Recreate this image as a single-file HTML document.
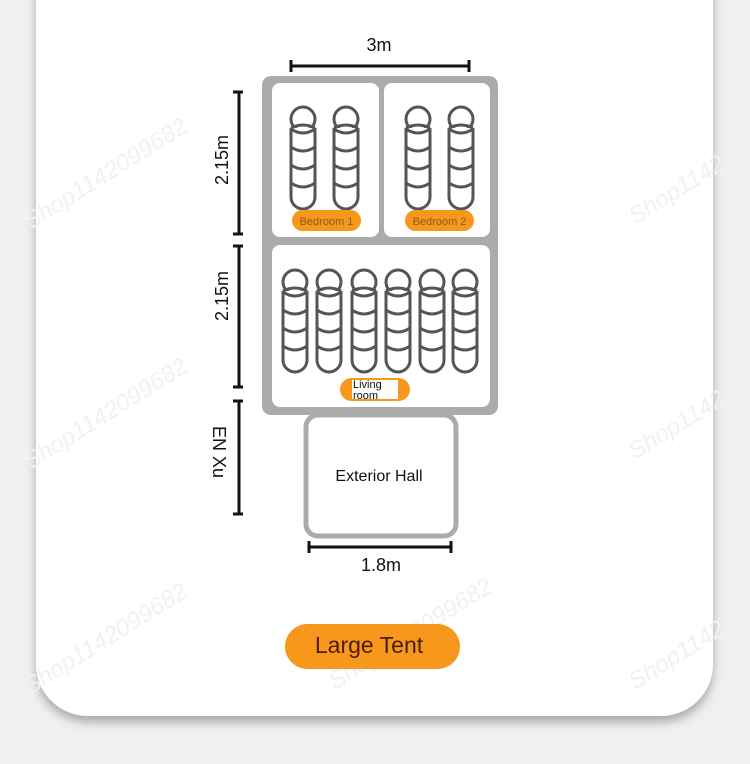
<!DOCTYPE html>
<html><head><meta charset="utf-8"><style>
html,body{margin:0;padding:0;background:#f0f0f0;width:750px;height:764px;overflow:hidden}
svg{display:block}
text{font-family:"Liberation Sans",sans-serif}
</style></head><body>
<svg width="750" height="764" viewBox="0 0 750 764" xmlns="http://www.w3.org/2000/svg">
<defs>
<filter id="sh" x="-10%" y="-10%" width="120%" height="120%"><feDropShadow dx="0" dy="6" stdDeviation="5" flood-color="#000" flood-opacity="0.3"/></filter>
<g id="bag" fill="none" stroke="#555" stroke-width="3">
<circle cx="0" cy="0" r="12" fill="#fff"/>
<path d="M-12,9 V78 A12,12 0 0 0 12,78 V9" fill="#fff"/>
<path d="M-12,9 Q0,3 12,9"/>
<path d="M-12,10 Q0,18 12,10"/>
<path d="M-12,28 Q0,36 12,28"/>
<path d="M-12,46 Q0,54 12,46"/>
<path d="M-12,64 Q0,72 12,64"/>
</g>
</defs>
<rect x="36" y="-60" width="677" height="776" rx="52" fill="#fff" filter="url(#sh)"/>
<g font-size="24" fill="#f1f1f1" font-style="italic">
<text transform="translate(30,230) rotate(-32)">Shop1142099682</text>
<text transform="translate(30,470) rotate(-32)">Shop1142099682</text>
<text transform="translate(30,695) rotate(-32)">Shop1142099682</text>
<text transform="translate(335,455) rotate(-32)">Shop1142099682</text>
<text transform="translate(335,690) rotate(-32)">Shop1142099682</text>
<text transform="translate(635,225) rotate(-32)">Shop1142</text>
<text transform="translate(635,460) rotate(-32)">Shop1142</text>
<text transform="translate(635,690) rotate(-32)">Shop1142</text>
</g>
<rect x="262" y="76" width="236" height="339" rx="9" fill="#ababab"/>
<rect x="272" y="83" width="107" height="154" rx="8" fill="#fff"/>
<rect x="384" y="83" width="106" height="154" rx="8" fill="#fff"/>
<rect x="272" y="245" width="218" height="162" rx="8" fill="#fff"/>
<rect x="306" y="415" width="150" height="121" rx="12" fill="#fff" stroke="#ababab" stroke-width="5"/>
<use href="#bag" x="303" y="119"/>
<use href="#bag" x="346" y="119"/>
<use href="#bag" x="418" y="119"/>
<use href="#bag" x="461" y="119"/>
<use href="#bag" x="295" y="282"/>
<use href="#bag" x="329" y="282"/>
<use href="#bag" x="364" y="282"/>
<use href="#bag" x="398" y="282"/>
<use href="#bag" x="432" y="282"/>
<use href="#bag" x="465" y="282"/>
<rect x="292" y="210" width="69" height="21" rx="10.5" fill="#f7981d"/>
<rect x="405" y="210" width="69" height="21" rx="10.5" fill="#f7981d"/>
<text x="326.5" y="225" font-size="11" fill="#8a5a1a" text-anchor="middle">Bedroom 1</text>
<text x="439.5" y="225" font-size="11" fill="#8a5a1a" text-anchor="middle">Bedroom 2</text>
<rect x="340" y="378" width="70" height="23" rx="11.5" fill="#f7981d"/>
<rect x="352" y="380" width="46" height="19" fill="#fff"/>
<text x="353" y="388" font-size="11" fill="#111">Living</text>
<text x="353" y="399" font-size="11" fill="#111">room</text>
<text x="379" y="481" font-size="16" fill="#111" text-anchor="middle">Exterior Hall</text>
<g stroke="#111" stroke-width="3">
<line x1="291" y1="66" x2="469" y2="66"/><line x1="291" y1="60" x2="291" y2="72"/><line x1="469" y1="60" x2="469" y2="72"/>
<line x1="239" y1="92" x2="239" y2="234"/><line x1="233" y1="92" x2="243" y2="92"/><line x1="233" y1="234" x2="243" y2="234"/>
<line x1="239" y1="246" x2="239" y2="387"/><line x1="233" y1="246" x2="243" y2="246"/><line x1="233" y1="387" x2="243" y2="387"/>
<line x1="239" y1="401" x2="239" y2="514"/><line x1="233" y1="401" x2="243" y2="401"/><line x1="233" y1="514" x2="243" y2="514"/>
<line x1="309" y1="547" x2="451" y2="547"/><line x1="309" y1="541" x2="309" y2="553"/><line x1="451" y1="541" x2="451" y2="553"/>
</g>
<g font-size="18" fill="#111">
<text x="379" y="51" text-anchor="middle">3m</text>
<text x="381" y="571" text-anchor="middle">1.8m</text>
<text transform="translate(228,160) rotate(-90)" text-anchor="middle">2.15m</text>
<text transform="translate(228,296) rotate(-90)" text-anchor="middle">2.15m</text>
<text transform="translate(213,452) rotate(90)" text-anchor="middle">EN Xu</text>
</g>
<rect x="285" y="624" width="175" height="45" rx="22.5" fill="#f7981d"/>
<text x="369" y="653" font-size="23" fill="#4a1e05" text-anchor="middle">Large Tent</text>
</svg>
</body></html>
